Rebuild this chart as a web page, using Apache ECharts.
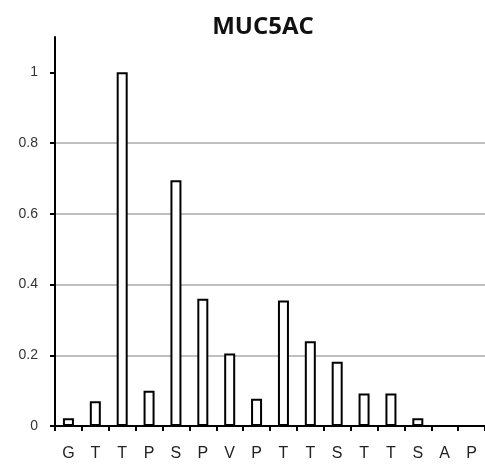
<!DOCTYPE html>
<html><head><meta charset="utf-8">
<script src="https://cdn.jsdelivr.net/npm/echarts@6/dist/echarts.min.js"></script>
<style>html,body{margin:0;padding:0;background:#fff}#c{width:485px;height:464px}</style>
</head><body><div id="c"></div>
<script>
var titleText = 'MUC5AC';
var categories = ['G','T','T','P','S','P','V','P','T','T','S','T','T','S','A','P'];
var values = [0.022, 0.07, 1.0, 0.1, 0.695, 0.36, 0.205, 0.077, 0.355, 0.24, 0.182, 0.092, 0.092, 0.022, 0, 0];
var yTicks = [0, 0.2, 0.4, 0.6, 0.8, 1];

var chart = echarts.init(document.getElementById('c'), null, {renderer:'canvas'});
chart.setOption({
  animation:false,
  backgroundColor:'#fff',
  title:{text:titleText, left:258, top:10, textAlign:'center',
    textStyle:{fontFamily:'Open Sans', fontWeight:'bold', fontSize:24, color:'#111'}},
  grid:{left:55, right:-8, top:37, bottom:38, containLabel:false},
  xAxis:{type:'category', data:categories,
    axisLine:{lineStyle:{color:'#000', width:2}},
    axisTick:{show:true, length:5, lineStyle:{color:'#000', width:2}},
    axisLabel:{color:'#222', fontFamily:'Liberation Sans', fontSize:16, margin:20, interval:0},
    splitLine:{show:false}},
  yAxis:{type:'value', min:0, max:1.1, interval:0.2,
    axisLine:{show:true, lineStyle:{color:'#000', width:2}},
    axisTick:{show:true, length:5, lineStyle:{color:'#000', width:2}, customValues:yTicks},
    axisLabel:{color:'#333', fontFamily:'Liberation Sans', fontSize:14, margin:17, customValues:yTicks,
      formatter:function(v){return String(v);}},
    splitLine:{show:true, showMaxLine:false, showMinLine:false, lineStyle:{color:'#aaa', width:1.5}}},
  series:[{type:'bar', data:values, barWidth:11,
    itemStyle:{color:'#fff', borderColor:'#000', borderWidth:2}}]
});
</script></body></html>
